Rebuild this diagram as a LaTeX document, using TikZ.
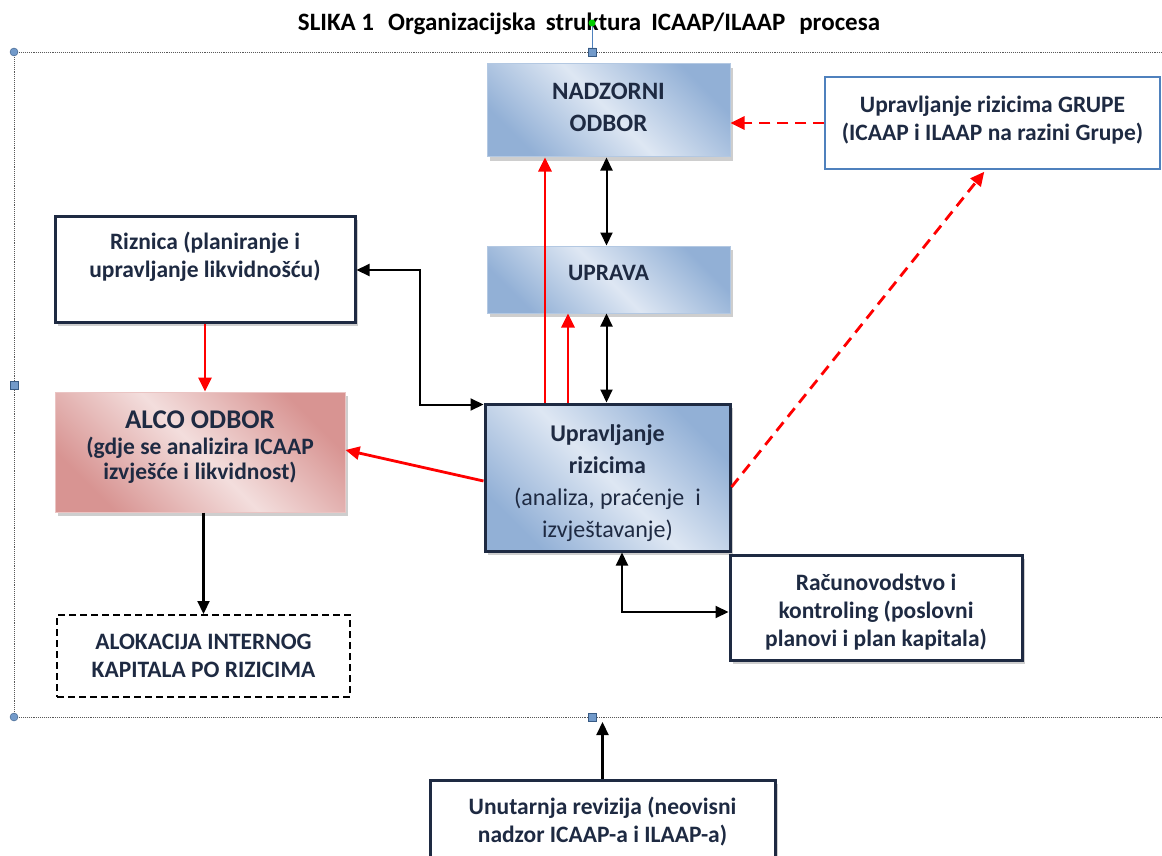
\documentclass[tikz,border=0pt]{standalone}
\usepackage{fontspec}
\setmainfont{Carlito}
\usepackage{xcolor}
\usetikzlibrary{arrows.meta,shadows}
\definecolor{navy}{RGB}{30,42,66}
\definecolor{ltblue}{RGB}{222,231,243}
\definecolor{dkblue}{RGB}{146,176,214}
\definecolor{ltred}{RGB}{243,222,221}
\definecolor{dkred}{RGB}{216,148,146}
\definecolor{handle}{RGB}{79,129,189}

\begin{document}
\begin{tikzpicture}[x=1pt, y=-1pt,
  txt/.style={font=\fontsize{23.5}{28}\selectfont\bfseries, text=navy, align=center, inner sep=0pt},
  shade/.style={drop shadow={shadow xshift=3pt, shadow yshift=-4pt, fill=gray!55, opacity=.7}},
  bluebox/.style={txt, shade, draw=dkblue!70, line width=1pt, top color=dkblue, bottom color=dkblue, middle color=ltblue, shading angle=-45},
  navybox/.style={txt, shade, draw=navy, line width=3pt, fill=white},
  redarr/.style={red, line width=2.8pt, -{Triangle[length=14pt,width=13pt]}},
  blkarr/.style={black, line width=2.2pt, -{Triangle[length=13pt,width=12pt]}},
  twoarr/.style={black, line width=2pt, {Triangle[length=13pt,width=12pt]}-{Triangle[length=13pt,width=12pt]}}
]
\useasboundingbox (0,0) rectangle (1162,856);

\node[txt, text=black, font=\fontsize{25}{26}\selectfont\bfseries](T) at (589,24) {SLIKA 1\hspace{14pt}Organizacijska\hspace{10pt}struktura\hspace{10pt}ICAAP/ILAAP\hspace{14pt}procesa};

% okvir
\draw[gray!70!black, densely dotted, line width=.9pt] (1162,52) -- (14,52) -- (14,717) -- (1162,717);
\draw[handle, line width=.8pt] (592,24) -- (592,52);
\fill[green!80!black] (592,23) circle (3.5);
\filldraw[draw=handle!70!black, fill=handle!80] (14,52) circle (4) (14,717) circle (4);
\filldraw[draw=handle!70!black, fill=handle!80] (588,48) rectangle (596,56) (588,713) rectangle (596,721) (10,381) rectangle (18,389);

\node[bluebox, font=\fontsize{25}{32}\selectfont\bfseries, minimum width=243, minimum height=93](NO) at (608.5,110.5) {NADZORNI\\ODBOR\\[-26pt]~};
\node[txt, fill=white, draw=handle, line width=1.5pt, minimum width=335, minimum height=92](GR) at (992.5,123) {Upravljanje rizicima GRUPE\\(ICAAP i ILAAP na razini Grupe)\\[-18pt]~};
\node[bluebox, minimum width=243, minimum height=67](UP) at (608.5,279.5) {UPRAVA\\[-14pt]~};
\node[navybox, minimum width=300, minimum height=106](RZ) at (205,269) {Riznica (planiranje i\\upravljanje likvidnošću)\\~};
\node[txt, shade, draw=dkred!55, line width=1pt, top color=dkred, bottom color=dkred, middle color=ltred, shading angle=-45, minimum width=290, minimum height=120](AL) at (200,452) {{\fontsize{27}{30}\selectfont ALCO ODBOR}\\[-2pt](gdje se analizira ICAAP\\[-3pt]izvješće i likvidnost)\\[-14pt]~};
\node[txt, draw=black, line width=2pt, dash pattern=on 7pt off 4pt, minimum width=293, minimum height=82](AK) at (203.5,656) {ALOKACIJA INTERNOG\\KAPITALA PO RIZICIMA};
\node[bluebox, draw=navy, line width=3pt, font=\fontsize{24}{32}\selectfont\bfseries, minimum width=245, minimum height=147](UR) at (607.5,477.5) {~\\[-3pt]Upravljanje\\rizicima\\\mdseries (analiza, praćenje\ \ i\\\mdseries izvještavanje)};
\node[navybox, minimum width=292, minimum height=105](RK) at (876,607.5) {~\\[-2pt]Računovodstvo i\\kontroling (poslovni\\planovi i plan kapitala)};
\node[navybox, minimum width=345, minimum height=84](UV) at (602.5,822) {Unutarnja revizija (neovisni\\nadzor ICAAP-a i ILAAP-a)};
\coordinate (FB) at (602.5,722);

% veze
\draw[redarr] ([xshift=-62.5pt]UR.north) -- ([xshift=-63.5pt]NO.south);
\draw[redarr] ([xshift=-39.5pt]UR.north) -- ([xshift=-40.5pt]UP.south);
\draw[twoarr] ([xshift=-2pt]NO.south) -- ([xshift=-2pt]UP.north);
\draw[twoarr] ([xshift=-2pt]UP.south) -- ([xshift=-1pt]UR.north);
\draw[twoarr] ([yshift=-1pt]RZ.east) -- ++(63,0) |- ([yshift=-2pt]UR.north west);
\draw[redarr] (RZ.south) -- (RZ.south |- AL.north);
\draw[redarr] ([yshift=-3.5pt]UR.west) -- ([yshift=2pt]AL.east);
\draw[redarr, dash pattern=on 11pt off 7pt] ([yshift=-9.5pt]UR.east) -- ([xshift=160pt,yshift=-2pt]GR.south west);
\draw[redarr, dash pattern=on 11pt off 7pt] (GR.west) -- (GR.west -| NO.east);
\draw[blkarr] (AK.north |- AL.south) -- (AK.north);
\draw[twoarr] ([xshift=14.5pt]UR.south) |- ([yshift=-4.5pt]RK.west);
\draw[blkarr] (UV.north) -- (FB);
\end{tikzpicture}
\end{document}
